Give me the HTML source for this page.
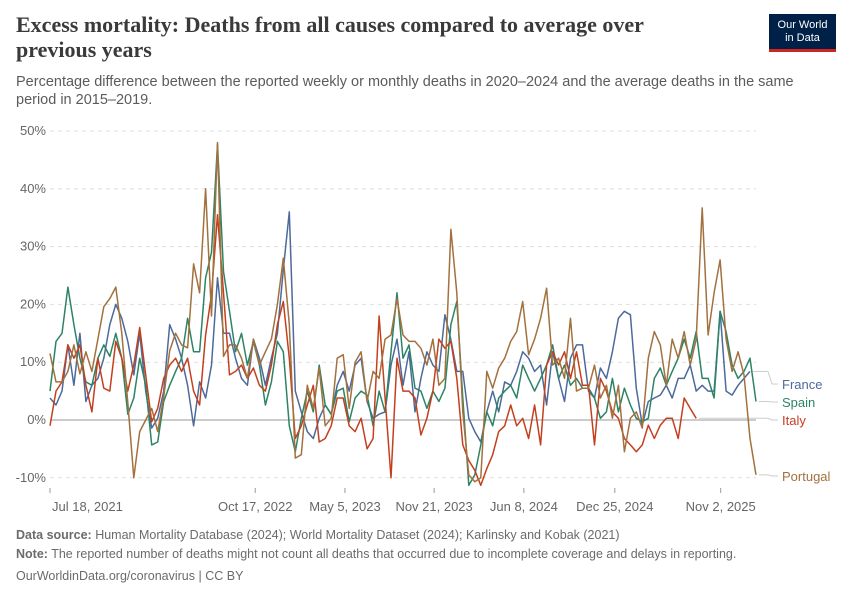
<!DOCTYPE html>
<html><head><meta charset="utf-8"><style>
body{margin:0;background:#fff;width:850px;height:600px;overflow:hidden;font-family:"Liberation Sans",sans-serif}
.t{position:absolute;left:16px;top:12px;font-family:"Liberation Serif",serif;font-weight:bold;font-size:22px;line-height:25px;color:#3a3a3a;width:700px}
.s{position:absolute;left:16px;top:73px;font-size:14.5px;line-height:18px;color:#5b5b5b;width:790px}
.logo{position:absolute;left:769px;top:14px;width:67px;height:38px;background:#002147;color:#fff;font-size:11px;line-height:13px;text-align:center;border-bottom:3px solid #ce261e;box-sizing:border-box;padding-top:5px}
.f{position:absolute;left:16px;font-size:12.5px;color:#6b6b6b}
</style></head><body>
<div class="t">Excess mortality: Deaths from all causes compared to average over previous years</div>
<div class="s">Percentage difference between the reported weekly or monthly deaths in 2020–2024 and the average deaths in the same period in 2015–2019.</div>
<div class="logo">Our World<br>in Data</div>
<svg id="c" width="850" height="600" style="position:absolute;left:0;top:0"></svg>
<div class="f" style="top:528px"><b>Data source:</b> Human Mortality Database (2024); World Mortality Dataset (2024); Karlinsky and Kobak (2021)</div>
<div class="f" style="top:547px"><b>Note:</b> The reported number of deaths might not count all deaths that occurred due to incomplete coverage and delays in reporting.</div>
<div class="f" style="top:569px">OurWorldinData.org/coronavirus | CC BY</div>
<script>
const yTicks=[50,40,30,20,10,0,-10];
const xTickLabels=["Jul 18, 2021","Oct 17, 2022","May 5, 2023","Nov 21, 2023","Jun 8, 2024","Dec 25, 2024","Nov 2, 2025"];
const xTickIdx=[0,34.3,49.3,64.2,79.2,94.4,112.1];
const countries=["France","Spain","Italy","Portugal"];
const france=[3.8,2.6,5,13,6,15,3.2,6,7.2,10.7,16.5,20,17.6,13.6,7.8,15,5,-1.4,0.3,5,16.5,14,10.7,6,-1,6.6,3.8,9.5,24.6,15,
15,10.7,7.2,6,14,10.7,6,10.7,15,26,36,5,1.4,-2,-3.2,0.3,2.6,1,6,8.4,5,9.5,10.7,3.2,0.3,1,1.4,9.5,14,6,
11.8,1.4,7.2,11.8,9.5,8.4,18.2,13.9,8.4,8.4,0.3,-2,-3.8,1.4,5,1.4,6.6,6,8.4,11.8,10.7,8.4,9.5,2.6,11.8,7.2,3.2,10.7,13,13,
5,3.8,9,7.2,11.8,17.6,18.8,18.2,5.5,-0.9,3.2,3.8,4.3,6,3.8,7.2,7.2,9.5,5,6,5,5,18.8,5,4.3,6,7.2,8.4];
const spain=[5,13.6,15,23,16.5,10.7,6.6,6,10.7,13,11,15,10.7,1,3.8,10.7,6,-4.3,-3.8,3.2,6,8.4,10.7,17.6,11.8,11.8,24.6,29,47.7,25.7,
18.8,11.8,15,9.5,13.6,9.5,2.6,6.6,13.6,11.8,-1,-5.5,0.3,5,1.4,9.5,2.6,1,5,5.5,-0.3,3.8,5,4.3,-1,5,1.4,11.8,22,10.7,
13,5.5,5,2,5,3.2,5.5,16.5,20.5,3.8,-11.3,-9.5,-4.3,1.4,-1,3.8,5,6,3.8,9.5,7.2,5,7.2,9.5,13,7.2,9.5,6,7.2,5.5,
5.5,3.8,0.3,1.4,7.2,1.4,5.5,2.6,0.3,-0.3,0.3,7.2,9,6,8.4,10.7,14,10.7,15.3,7.2,7.2,3.8,18.8,15.3,9.5,7.2,8.4,10.7,3.2];
const italy=[-1,5,6.6,13,10.7,13,6,1.4,10.7,5.5,5,13.6,10.7,5,9.5,16,7.8,-0.3,2,7.2,9.5,10.7,8.4,10.7,5,2.6,14.7,21.7,35.5,22,
7.8,8.4,9.5,7.2,9,6,5,9.5,16.5,20.5,10.7,-3.2,-1,2.6,6,-3.8,-3.2,-1,3.8,3.8,-1,-2,0.3,-5,-3.2,18,3.8,-10,10.7,5,
5,3.8,-2.6,0.3,5,14,12.4,13.6,7.2,-4.3,-7,-8.7,-11.3,-8.4,-6,-2,-1,2.6,-1,0.3,-3.2,2.6,-4.3,9.5,11.8,9.5,11.8,7.2,11.8,6,
6,-4.3,7.2,5,1.4,0.3,-3.2,-4.3,-5.5,-4.3,-0.9,-3.2,-0.9,0.3,0.3,-3.2,3.8,2,0.3];
const portugal=[11.5,6.6,6.6,8.4,13,8,11.8,8.4,14,19.6,21,23,15,3,-10,-2,0,2,-2,4,12,15,13,12.5,27,22,40,18,48,11,
13,13,10.7,7.2,14,9.5,11.8,14,20,28,16.5,-6.6,-6,6,2,9,-1,0.3,10.7,11.3,2,10,11.8,3.2,8.4,7.2,14,14.7,21,14.7,
13.6,13.6,12.4,9.5,14,6,7.2,33,22,1.4,-9.5,-10.7,-10,8.4,5.5,9,10.7,13.6,15.3,20.5,11.3,14,17.6,22.8,9.5,10.7,7.2,17.6,5,5.5,
5.5,9.5,3.8,6,0.3,6,-5.5,0.3,1.4,-1.4,10.7,15.3,13,6,14,10.7,15.3,9.5,14,36.7,14.7,22,27.7,14,8.4,11.8,7.8,-3.2,-9.5];
const series=[france,spain,italy,portugal];
const colors=["#4c6a9c","#2c8465","#c3401f","#a2713e"];
const labelY=[384,402,420,476];
const svg=document.getElementById('c');
const NS='http://www.w3.org/2000/svg';
const x0=50,x1=756,N=118;
const xs=i=>x0+i*(x1-x0)/N;
const ys=v=>420-v*5.78;
function mk(t,a){const e=document.createElementNS(NS,t);for(const k in a)e.setAttribute(k,a[k]);svg.appendChild(e);return e;}
yTicks.forEach(v=>{
 const g=mk('line',{x1:x0,x2:x1,y1:ys(v),y2:ys(v),stroke:v===0?'#999':'#ddd','stroke-dasharray':v===0?'':'4,4','stroke-width':1});
 
 
 const t=mk('text',{x:46,y:ys(v)+4,'text-anchor':'end','font-size':13,fill:'#666'});
 t.textContent=v+'%';
 
 
});
xTickLabels.forEach((l,k)=>{
 const x=xs(xTickIdx[k]);
 const tk=mk('line',{x1:x,x2:x,y1:488,y2:493,stroke:'#999'});
 
 
 const t=mk('text',{x:k===0?x+2:x,y:511,'text-anchor':k===0?'start':'middle','font-size':13,fill:'#666'});
 t.textContent=l;
 
 
});
series.forEach((s,j)=>{
 const pts=s.map((v,i)=>xs(i).toFixed(1)+','+ys(v).toFixed(1)).join(' ');
 const p=mk('polyline',{points:pts,fill:'none',stroke:colors[j],'stroke-width':1.5,'stroke-linejoin':'round'});
 
 
 const last=s.length-1;
 const c=mk('polyline',{points:`${xs(last)+3},${ys(s[last])} 768,${ys(s[last])} 772,${labelY[j]} 778,${labelY[j]}`,fill:'none',stroke:'#ccc','stroke-width':1});
 
 
 const t=mk('text',{x:782,y:labelY[j]+5,'font-size':13,fill:colors[j]});
 t.textContent=countries[j];
 
 
});
</script>
</body></html>
